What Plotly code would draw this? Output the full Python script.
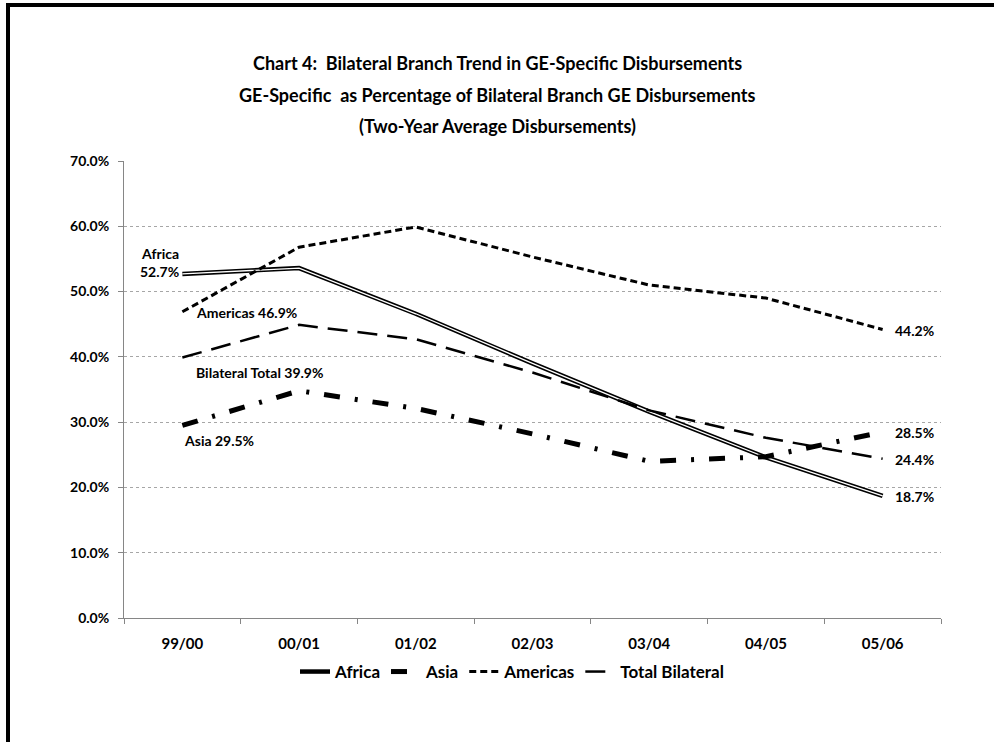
import plotly.graph_objects as go

# Two-year periods and GE-specific shares (% of bilateral branch GE disbursements)
periods = ["99/00", "00/01", "01/02", "02/03", "03/04", "04/05", "05/06"]
africa = [52.7, 53.6, 46.6, 39.0, 31.6, 24.6, 18.7]
asia = [29.5, 34.8, 32.1, 28.2, 24.0, 24.7, 28.5]
americas = [46.9, 56.8, 59.9, 55.3, 51.0, 49.0, 44.2]
total_bilateral = [39.9, 44.9, 42.7, 37.6, 31.8, 27.6, 24.4]

y_ticks = [0, 10, 20, 30, 40, 50, 60, 70]

title_lines = [
    "Chart 4:  Bilateral Branch Trend in GE-Specific Disbursements",
    "GE-Specific  as Percentage of Bilateral Branch GE Disbursements",
    "(Two-Year Average Disbursements)",
]

W, H = 994, 742
L, R, T, B = 124, 53, 161, 124
PW, PH = W - L - R, H - T - B


def px_x(px):
    return (px - L) / PW


def px_y(py):
    return (H - B - py) / PH


FONT = "Lato"
INK = "#000000"
BOLD = dict(family=FONT, size=14, color=INK, weight=700)
LABEL = dict(family=FONT, size=14, color=INK, weight=700)

fig = go.Figure()

# Africa: double line (black outer, white core)
fig.add_trace(go.Scatter(x=periods, y=africa, name="Africa", mode="lines",
                         line=dict(color="black", width=4.5)))
fig.add_trace(go.Scatter(x=periods, y=africa, name="Africa core", mode="lines",
                         line=dict(color="white", width=1.3),
                         showlegend=False, hoverinfo="skip"))
fig.add_trace(go.Scatter(x=periods, y=asia, name="Asia", mode="lines",
                         line=dict(color="black", width=5,
                                   dash="16px,15px,3px,15px")))
fig.add_trace(go.Scatter(x=periods, y=americas, name="Americas", mode="lines",
                         line=dict(color="black", width=3, dash="7px,4px")))
fig.add_trace(go.Scatter(x=periods, y=total_bilateral, name="Total Bilateral",
                         mode="lines",
                         line=dict(color="black", width=2.5, dash="20px,10px")))

annotations = []

# Title, one annotation per line
for txt, py in zip(title_lines, [63, 95, 126]):
    annotations.append(dict(
        text=txt, x=px_x(497), y=px_y(py), xref="paper", yref="paper",
        xanchor="center", yanchor="middle", showarrow=False,
        font=dict(family=FONT, size=18, color=INK, weight=700)))

# Start-of-series labels
annotations.append(dict(
    x=periods[0], y=africa[0], xref="x", yref="y",
    text=f"Africa<br>{africa[0]:.1f}%", align="right",
    xanchor="right", yanchor="middle", xshift=-1, yshift=11,
    showarrow=False, font=LABEL))
annotations.append(dict(
    x=periods[0], y=americas[0], xref="x", yref="y",
    text=f"Americas {americas[0]:.1f}%",
    xanchor="left", yanchor="middle", xshift=12, yshift=-1,
    showarrow=False, font=LABEL))
annotations.append(dict(
    x=periods[0], y=total_bilateral[0], xref="x", yref="y",
    text=f"Bilateral Total {total_bilateral[0]:.1f}%",
    xanchor="left", yanchor="middle", xshift=12, yshift=-15,
    showarrow=False, font=LABEL))
annotations.append(dict(
    x=periods[0], y=asia[0], xref="x", yref="y",
    text=f"Asia {asia[0]:.1f}%",
    xanchor="left", yanchor="middle", xshift=0, yshift=-15,
    showarrow=False, font=LABEL))

# End-of-series labels
for series in (americas, asia, total_bilateral, africa):
    annotations.append(dict(
        x=periods[-1], y=series[-1], xref="x", yref="y",
        text=f"{series[-1]:.1f}%", xanchor="left", yanchor="middle",
        xshift=10, yshift=-1, showarrow=False, font=LABEL))

# Black frame on the left and top edges
shapes = [
    dict(type="line", xref="paper", yref="paper",
         x0=px_x(8), x1=px_x(8), y0=px_y(3), y1=px_y(760),
         line=dict(color="black", width=4)),
    dict(type="line", xref="paper", yref="paper",
         x0=px_x(6), x1=px_x(1010), y0=px_y(5), y1=px_y(5),
         line=dict(color="black", width=4)),
]

fig.update_layout(
    width=W, height=H,
    margin=dict(l=L, r=R, t=T, b=B),
    paper_bgcolor="white", plot_bgcolor="white",
    annotations=annotations, shapes=shapes,
    showlegend=True,
    legend=dict(orientation="h", x=px_x(512), y=px_y(672),
                xanchor="center", yanchor="middle",
                font=dict(family=FONT, size=17, color=INK, weight=700),
                itemwidth=30, bgcolor="rgba(0,0,0,0)"),
    xaxis=dict(
        type="category", range=[-0.5, len(periods) - 0.5],
        showline=True, linecolor="#868686", linewidth=1,
        ticks="outside", tickson="boundaries", ticklen=5,
        tickcolor="#868686", showgrid=False, zeroline=False,
        tickfont=dict(family=FONT, size=15, color=INK, weight=700),
        ticklabelstandoff=12),
    yaxis=dict(
        range=[0, 70], tickvals=y_ticks,
        ticktext=[f"{v:.1f}%" for v in y_ticks],
        showline=True, linecolor="#868686", linewidth=1,
        ticks="outside", ticklen=5, tickcolor="#868686",
        showgrid=True, gridcolor="#a6a6a6", griddash="dot", gridwidth=1,
        zeroline=False, tickfont=BOLD, ticklabelstandoff=6),
)

fig.write_html("out.html")
